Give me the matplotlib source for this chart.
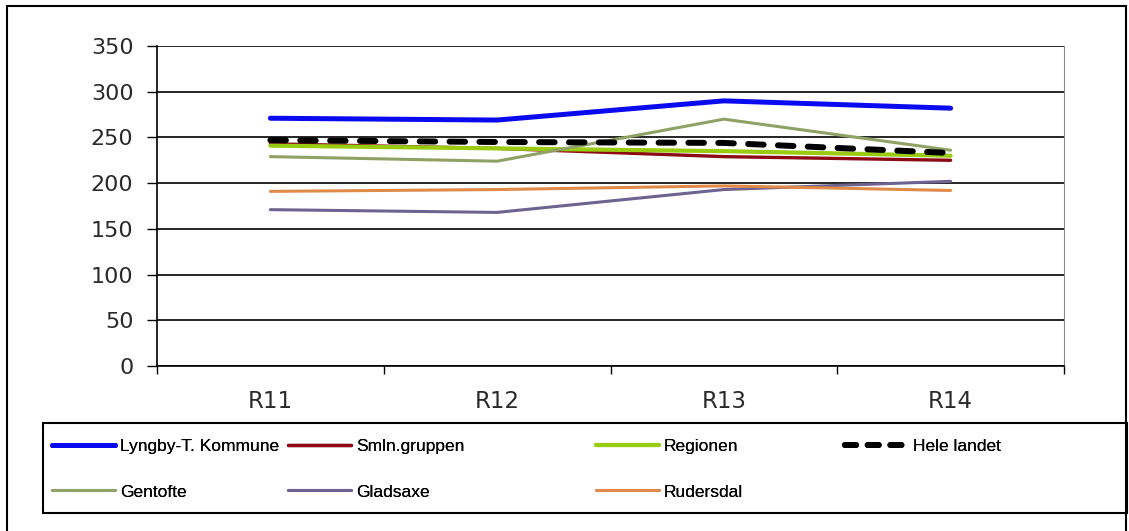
import numpy as np
import matplotlib.pyplot as plt
from matplotlib.lines import Line2D
from matplotlib.patches import Rectangle

rounds = ['R11', 'R12', 'R13', 'R14']
lyngby = [271, 269, 290, 282]
smln = [243, 238, 229, 225]
regionen = [241, 238, 235, 230]
hele_landet = [247, 245, 244, 233]
gentofte = [229, 224, 270, 236]
gladsaxe = [171, 168, 193, 202]
rudersdal = [191, 193, 197, 192]

W, H = 1129, 531
fig = plt.figure(figsize=(W / 100, H / 100), dpi=100)
fig.patch.set_facecolor('white')

# outer chart frame
fig.patches.append(Rectangle((7 / W, -0.01), 1119 / W, (H - 6) / H + 0.01,
                             transform=fig.transFigure, fill=False,
                             edgecolor='black', linewidth=1.5))

ax = fig.add_axes([157 / W, (H - 366) / H, (1064 - 157) / W, (366 - 46) / H])
x = np.arange(len(rounds))

series = [
    ('Lyngby-T. Kommune', lyngby, '#0A0AF0', 3.6, None),
    ('Smln.gruppen', smln, '#8B0A14', 2.4, None),
    ('Regionen', regionen, '#99CC11', 3.0, None),
    ('Gentofte', gentofte, '#8FA265', 2.2, None),
    ('Gladsaxe', gladsaxe, '#6E6290', 2.2, None),
    ('Rudersdal', rudersdal, '#E08A4A', 2.2, None),
    ('Hele landet', hele_landet, 'black', 4.3, (2.6, 2.4)),
]

handles = {}
for name, vals, col, lw, dash in series:
    if dash:
        ln, = ax.plot(x, vals, color=col, lw=lw, dashes=dash,
                      dash_capstyle='round', zorder=5)
    else:
        ln, = ax.plot(x, vals, color=col, lw=lw, solid_capstyle='round',
                      zorder=3)
    handles[name] = ln

ax.set_xlim(-0.5, 3.5)
ax.set_ylim(0, 350)
ax.set_yticks(np.arange(0, 351, 50))
ax.grid(axis='y', color='black', lw=1.2)
ax.set_axisbelow(True)
ax.set_xticks(x)
ax.set_xticklabels(rounds)
ax.set_xticks(np.arange(-0.5, 3.6, 1), minor=True)
ax.tick_params(axis='x', which='major', length=0, pad=17, labelsize=16.5,
               labelcolor='#2a2a2a')
ax.tick_params(axis='x', which='minor', length=6, width=1, direction='out')
ax.tick_params(axis='y', length=7, width=1, pad=10, labelsize=16,
               labelcolor='#2a2a2a')
for s in ['left', 'bottom']:
    ax.spines[s].set_color('black')
    ax.spines[s].set_linewidth(1.2)
ax.spines['top'].set_visible(False)
ax.spines['right'].set_color('#888888')

# legend box
fig.patches.append(Rectangle((43 / W, (H - 513) / H), (1127 - 43) / W, 90 / H,
                             transform=fig.transFigure, fill=False,
                             edgecolor='black', linewidth=1.5))

columns = [
    (52, ['Lyngby-T. Kommune', 'Gentofte']),
    (288, ['Smln.gruppen', 'Gladsaxe']),
    (596, ['Regionen', 'Rudersdal']),
    (845, ['Hele landet']),
]
for xpos, names in columns:
    hs = []
    for n in names:
        src = handles[n]
        hs.append(Line2D([], [], color=src.get_color(), lw=src.get_linewidth(),
                         linestyle=src.get_linestyle(), dash_capstyle='round',
                         solid_capstyle='round'))
        if n == 'Hele landet':
            hs[-1].set_dashes((1.85, 1.95))
    leg = fig.legend(hs, names, loc='upper left',
                     bbox_to_anchor=(xpos / W, (H - 439) / H),
                     frameon=False, prop={'family': 'Liberation Sans', 'size': 12.5},
                     handlelength=3.6, handletextpad=0.3, labelspacing=1.74,
                     borderpad=0, borderaxespad=0)
    fig.add_artist(leg)

fig.savefig('out.png', dpi=100)
